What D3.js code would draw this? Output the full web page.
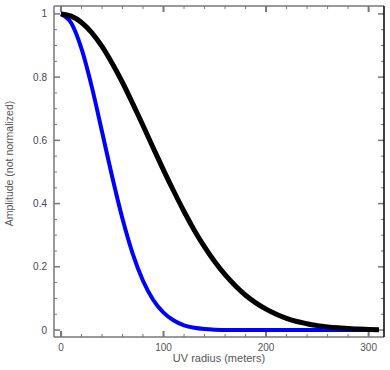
<!DOCTYPE html>
<html><head><meta charset="utf-8">
<script src="https://cdn.jsdelivr.net/npm/d3@7"></script>
<style>body{margin:0;background:#fff}svg{display:block}text{font-family:"Liberation Sans",Arial,sans-serif}</style>
</head><body>
<svg id="c" width="390" height="370"></svg>
<script>
const radius = [0,10,20,30,40,50,60,70,80,90,100,110,120,130,140,150,160,170,180,190,200,210,220,230,240,250,260,270,280,290,300,310];
const ampBlack = [1,0.993,0.973,0.941,0.897,0.843,0.783,0.716,0.647,0.576,0.506,0.439,0.375,0.316,0.263,0.216,0.175,0.140,0.110,0.086,0.066,0.050,0.037,0.027,0.020,0.014,0.010,0.007,0.005,0.003,0.002,0.001];
const ampBlue = [1,0.971,0.890,0.770,0.628,0.484,0.352,0.241,0.156,0.095,0.055,0.030,0.015,0.007,0.003,0.001,0,0,0,0,0,0,0,0,0,0,0,0,0,0,0,0];
const xTicks = [0,100,200,300];
const yTicks = [0,0.2,0.4,0.6,0.8,1];
const yTickLabels = ["0","0.2","0.4","0.6","0.8","1"];
const xTitle = "UV radius (meters)";
const yTitle = "Amplitude (not normalized)";

const svg = d3.select("#c");
const L=54, R=384, T=6, B=337;
const x = d3.scaleLinear().domain([-6.8,315]).range([L,R]);
const y = d3.scaleLinear().domain([-0.022,1.025]).range([B,T]);
const axisCol = "#777";

const xMinor = d3.range(0,320,20).filter(v=>v<=314);
const yMinor = d3.range(0,1.0001,0.05).map(v=>+v.toFixed(2));
const g = svg.append("g");
xMinor.forEach(v=>{
  const major = xTicks.includes(v);
  const len = major?6:3;
  g.append("line").attr("x1",x(v)).attr("x2",x(v)).attr("y1",B).attr("y2",B-len).attr("stroke",axisCol).attr("stroke-width",major?2:1);
  g.append("line").attr("x1",x(v)).attr("x2",x(v)).attr("y1",T).attr("y2",T+len).attr("stroke",axisCol).attr("stroke-width",major?2:1);
});
yMinor.forEach(v=>{
  const major = yTicks.some(t=>Math.abs(t-v)<1e-6);
  const len = major?6:3;
  g.append("line").attr("x1",L).attr("x2",L+len).attr("y1",y(v)).attr("y2",y(v)).attr("stroke",axisCol).attr("stroke-width",major?1.5:1);
  g.append("line").attr("x1",R).attr("x2",R-len).attr("y1",y(v)).attr("y2",y(v)).attr("stroke",axisCol).attr("stroke-width",major?1.5:1);
});
svg.append("line").attr("x1",L).attr("x2",R).attr("y1",B).attr("y2",B).attr("stroke",axisCol).attr("stroke-width",1.5);
svg.append("line").attr("x1",L).attr("x2",R).attr("y1",T).attr("y2",T).attr("stroke",axisCol).attr("stroke-width",1.5);
svg.append("line").attr("x1",L).attr("x2",L).attr("y1",T).attr("y2",B).attr("stroke",axisCol).attr("stroke-width",1.5);
svg.append("line").attr("x1",R).attr("x2",R).attr("y1",T).attr("y2",B).attr("stroke","#000").attr("stroke-width",1.5);

svg.selectAll(".xl").data(xTicks).enter().append("text")
  .attr("x",d=>x(d)).attr("y",351).attr("text-anchor","middle")
  .attr("font-size",10).attr("fill","#555").text(d=>d);
svg.selectAll(".yl").data(yTicks).enter().append("text")
  .attr("x",47).attr("y",d=>y(d)+3.5).attr("text-anchor","end")
  .attr("font-size",10).attr("fill","#445").text((d,i)=>yTickLabels[i]);

svg.append("text").attr("x",(L+R)/2).attr("y",362).attr("text-anchor","middle")
  .attr("font-size",11).attr("fill","#555").text(xTitle);
svg.append("text").attr("transform",`translate(13,${(T+B)/2 - 8}) rotate(-90)`).attr("text-anchor","middle")
  .attr("font-size",10.5).attr("fill","#555").text(yTitle);

const line = d3.line().x((d,i)=>x(radius[i])).y(d=>y(d)).curve(d3.curveMonotoneX);
svg.append("path").attr("d",line(ampBlue)).attr("fill","none").attr("stroke","#0000ff").attr("stroke-width",4);
svg.append("path").attr("d",line(ampBlack)).attr("fill","none").attr("stroke","#000").attr("stroke-width",5);
</script>
</body></html>
